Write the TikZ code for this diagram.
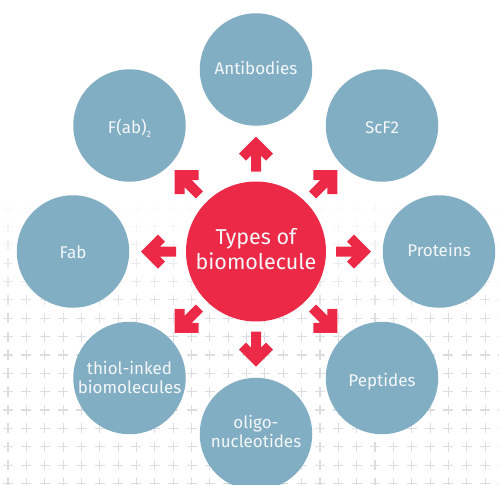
\documentclass[tikz,border=0pt]{standalone}
\usepackage{fontspec}
\setmainfont{Fira Sans}
\definecolor{bred}{HTML}{EC2A47}
\definecolor{bblue}{HTML}{82AEC4}
\definecolor{plusgray}{HTML}{DCDDE1}
\definecolor{txt}{HTML}{F4F7F9}
\begin{document}
\begin{tikzpicture}[x=1pt,y=-1pt,
  outer/.style={circle,fill=bblue,minimum size=112.5pt,inner sep=0pt},
  centre/.style={circle,fill=bred,minimum size=140pt,inner sep=0pt},
  olabel/.style={text=txt,font=\fontsize{17}{20}\selectfont,anchor=base,inner sep=0pt},
  clabel/.style={text=txt,font=\fontsize{21.5}{25}\selectfont,anchor=base,inner sep=0pt},
  plusmark/.style={draw=plusgray,line width=1.1pt}]
\useasboundingbox (0,0) rectangle (499,485);
\fill[white] (0,0) rectangle (499,485);
% background plus pattern, fading in towards the top
\foreach \k in {0,...,16}{
  \pgfmathsetmacro{\yy}{483.4-18.35*\k}
  \pgfmathsetmacro{\op}{min(1,max(0,(\yy-190)/140))}
  \foreach \i in {0,...,27}{
    \pgfmathsetmacro{\xx}{8+18.35*\i}
    \draw[plusmark,opacity=\op] (\xx-5,\yy) -- (\xx+5,\yy) (\xx,\yy-5) -- (\xx,\yy+5);
  }
}
% circles
\node[centre] (c) at (256,251.5) {};
\node[outer] (ab)  at (256,69.5)  {};
\node[outer] (scf) at (382,125.5) {};
\node[outer] (pro) at (439,251.5) {};
\node[outer] (pep) at (382,378)   {};
\node[outer] (oli) at (256,434)   {};
\node[outer] (thi) at (129.5,378) {};
\node[outer] (fab) at (73,251.5)  {};
\node[outer] (fab2) at (129.5,125.5) {};
% labels
\node[clabel] (ct1) at (256,244) {Types of};
\node[clabel] (ct2) at (256,269) {biomolecule};
\node[olabel] (abt) at (256,74) {Antibodies};
\node[olabel] (scft) at (382,133) {ScF2};
\node[olabel] (prot) at (439,256) {Proteins};
\node[olabel] (pept) at (382,386) {Peptides};
\node[olabel] (olit1) at (256,428) {oligo-};
\node[olabel] (olit2) at (256,447) {nucleotides};
\node[olabel] (thit1) at (129.5,374) {thiol-inked};
\node[olabel] (thit2) at (129.5,393) {biomolecules};
\node[olabel] (fabt) at (73,258) {Fab};
\node[olabel] (fab2t) at (129.5,133) {F(ab)\raisebox{-0.5ex}{\fontsize{9}{9}\selectfont 2}};
% arrows
\foreach \ang in {0,45,...,315}{
  \begin{scope}[shift={(c.center)},rotate=\ang]
    \fill[bred] (115,0) -- (98,17) -- (91,10) -- (96,5) -- (80,5)
      -- (80,-5) -- (96,-5) -- (91,-10) -- (98,-17) -- cycle;
  \end{scope}
}
\end{tikzpicture}
\end{document}
